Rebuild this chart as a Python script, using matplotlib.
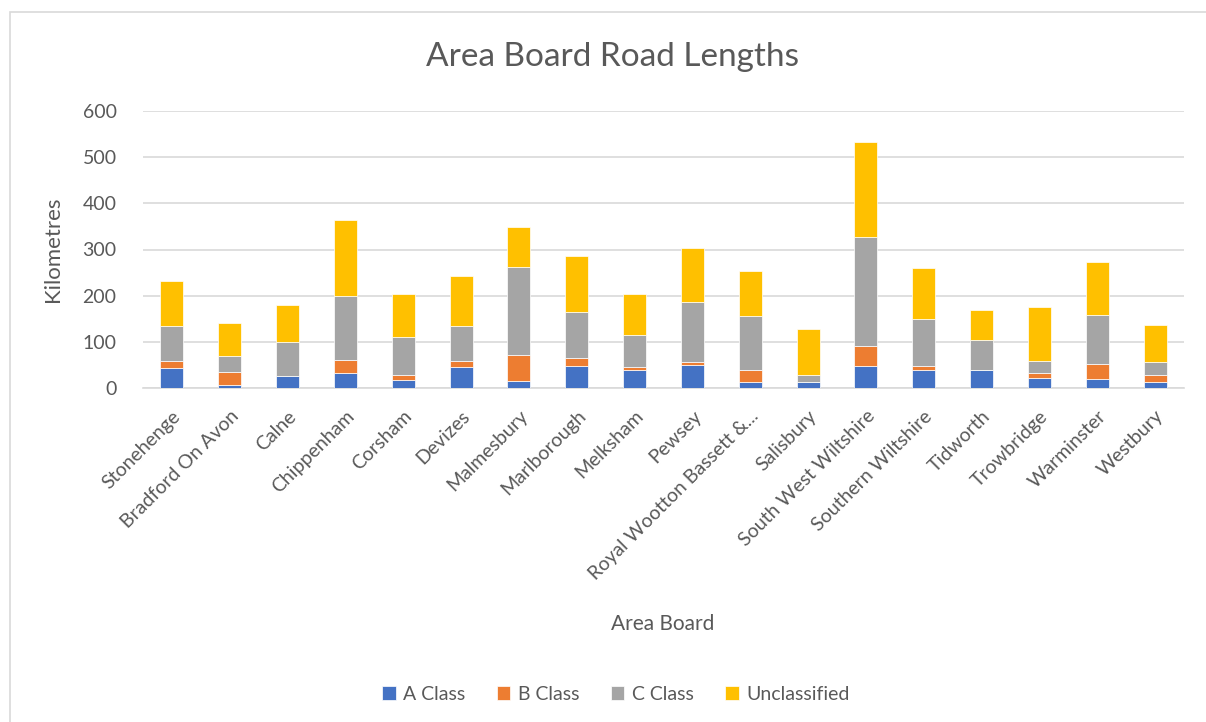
import numpy as np
import matplotlib.pyplot as plt
from matplotlib.patches import Rectangle

plt.rcParams['font.family'] = ['Lato', 'DejaVu Sans']

boards = ['Stonehenge', 'Bradford On Avon', 'Calne', 'Chippenham', 'Corsham',
          'Devizes', 'Malmesbury', 'Marlborough', 'Melksham', 'Pewsey',
          'Royal Wootton Bassett &...', 'Salisbury', 'South West Wiltshire',
          'Southern Wiltshire', 'Tidworth', 'Trowbridge', 'Warminster', 'Westbury']
a_class = [43, 7, 27, 32, 17, 46, 16, 47, 40, 49, 12, 12, 48, 38, 38, 22, 19, 12]
b_class = [15, 27, 0, 28, 12, 13, 55, 19, 6, 7, 28, 0, 42, 9, 0, 10, 32, 16]
c_class = [76, 35, 72, 140, 82, 76, 191, 98, 68, 130, 117, 17, 238, 102, 67, 26, 108, 28]
unclassified = [97, 72, 80, 164, 92, 107, 87, 122, 90, 117, 96, 99, 204, 111, 64, 117, 115, 81]

series = [('A Class', a_class, '#4472C4'),
          ('B Class', b_class, '#ED7D31'),
          ('C Class', c_class, '#A5A5A5'),
          ('Unclassified', unclassified, '#FFC000')]

text_col = '#595959'
grid_col = '#D9D9D9'

fig = plt.figure(figsize=(12.06, 7.22), dpi=100)
# chart frame (only left and top edges fall inside the picture)
fig.patches.append(Rectangle((10 / 1206, -0.1), 1.2, (722 - 12) / 722 + 0.1,
                             transform=fig.transFigure, fill=False,
                             edgecolor=grid_col, linewidth=1.2))
ax = fig.add_axes([143 / 1206, (722 - 388) / 722, 1041 / 1206, 277 / 722])

x = np.arange(len(boards))
bottom = np.zeros(len(boards))
for name, vals, col in series:
    ax.bar(x, vals, width=0.4, bottom=bottom, color=col, label=name,
           edgecolor='white', linewidth=0.5, zorder=3)
    bottom += np.array(vals)

ax.set_xlim(-0.5, len(boards) - 0.5)
ax.set_ylim(0, 600)
ax.set_yticks(range(0, 601, 100))
ax.yaxis.grid(True, color=grid_col, linewidth=1.2, zorder=0)
for s in ['top', 'right', 'left']:
    ax.spines[s].set_visible(False)
ax.spines['bottom'].set_color(grid_col)
ax.spines['bottom'].set_linewidth(1.2)
ax.tick_params(axis='both', length=0, colors=text_col, labelsize=14)
ax.tick_params(axis='y', pad=19)
ax.tick_params(axis='x', pad=14)
ax.set_xticks(x)
ax.set_xticklabels(boards, rotation=45, ha='right', rotation_mode='anchor')

fig.text(612 / 1206, 1 - 57 / 722, 'Area Board Road Lengths', fontsize=24,
         color=text_col, ha='center', va='center')
ax.set_ylabel('Kilometres', fontsize=16, color=text_col, labelpad=14)
fig.text(663 / 1206, 1 - 624 / 722, 'Area Board', fontsize=15, color=text_col,
         ha='center', va='center')

ax.legend(loc='center', bbox_to_anchor=(616 / 1206, 1 - 694 / 722),
          bbox_transform=fig.transFigure, ncol=4, frameon=False,
          fontsize=14, labelcolor=text_col, handlelength=0.7, handleheight=0.7,
          handletextpad=0.4, columnspacing=1.6)

fig.savefig('out.png', dpi=100)
